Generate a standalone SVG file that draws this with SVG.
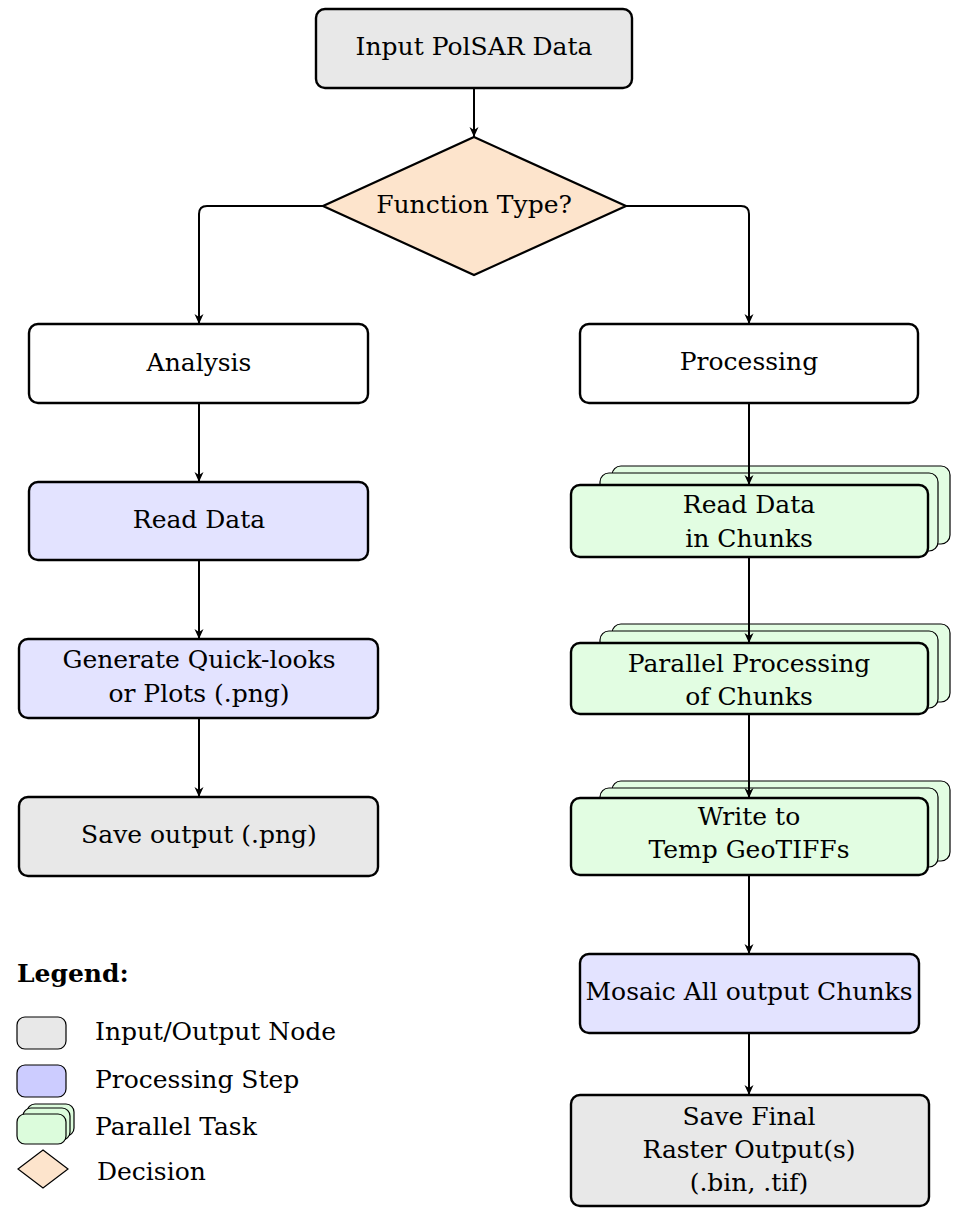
<svg xmlns="http://www.w3.org/2000/svg" width="959" height="1216" viewBox="0 0 959 1216">
<style>
.t{font-size:25px;fill:#000;text-anchor:middle}
.lt{font-size:25px;fill:#000}
.lb{font-size:25px;font-weight:bold;fill:#000}
.n{stroke:#000;stroke-width:2.4}
.io{fill:#e8e8e8}
.proc{fill:#e3e3ff}
.plain{fill:#fff}
.par{fill:#e2fde2}
.sh{fill:#e2fde2;stroke:#000;stroke-width:1.2}
.dec{fill:#fde4cc;stroke:#000;stroke-width:2.2}
.leg{stroke:#000;stroke-width:1.2}
.c{fill:none;stroke:#000;stroke-width:2}
</style>
<defs>
<marker id="ah" markerUnits="userSpaceOnUse" markerWidth="14" markerHeight="12" viewBox="-11 -6 12 12" refX="0" refY="0" orient="auto">
<path d="M0,0 L-10,-4.5 L-7,0 L-10,4.5 Z" fill="#000"/>
</marker>
</defs>
<g font-family="'DejaVu Serif', serif">

<g id="input">
<rect class="n io" x="316" y="9" width="316" height="79" rx="9"/>
<text class="t" x="474" y="55">Input PolSAR Data</text>
</g>

<g id="decision">
<polygon class="dec" points="474,137 626,206 474,275 323,206"/>
<text class="t" x="474" y="213">Function Type?</text>
</g>

<g id="analysis">
<rect class="n plain" x="29" y="324" width="339" height="79" rx="9"/>
<text class="t" x="199" y="371">Analysis</text>
</g>

<g id="processing">
<rect class="n plain" x="580" y="324" width="338" height="79" rx="9"/>
<text class="t" x="749" y="370">Processing</text>
</g>

<g id="read-data">
<rect class="n proc" x="29" y="482" width="339" height="78" rx="9"/>
<text class="t" x="199" y="528">Read Data</text>
</g>

<g id="quicklooks">
<rect class="n proc" x="19" y="639" width="359" height="79" rx="9"/>
<text class="t" x="199" y="668">Generate Quick-looks</text>
<text class="t" x="199" y="702">or Plots (.png)</text>
</g>

<g id="save-output">
<rect class="n io" x="19" y="797" width="359" height="79" rx="9"/>
<text class="t" x="199" y="843">Save output (.png)</text>
</g>

<g id="read-chunks">
<rect class="sh" x="612" y="466" width="338" height="78" rx="9"/>
<rect class="sh" x="600" y="473" width="338" height="78" rx="9"/>
<rect class="n par" x="571" y="485" width="357" height="72" rx="9"/>
<text class="t" x="749" y="513">Read Data</text>
<text class="t" x="749" y="547">in Chunks</text>
</g>

<g id="parallel-processing">
<rect class="sh" x="612" y="624" width="338" height="78" rx="9"/>
<rect class="sh" x="600" y="631" width="338" height="77" rx="9"/>
<rect class="n par" x="571" y="643" width="357" height="71" rx="9"/>
<text class="t" x="749" y="672">Parallel Processing</text>
<text class="t" x="749" y="705">of Chunks</text>
</g>

<g id="write-temp">
<rect class="sh" x="612" y="781" width="338" height="80" rx="9"/>
<rect class="sh" x="600" y="788" width="338" height="79" rx="9"/>
<rect class="n par" x="571" y="798" width="357" height="77" rx="9"/>
<text class="t" x="749" y="825">Write to</text>
<text class="t" x="749" y="858">Temp GeoTIFFs</text>
</g>

<g id="mosaic">
<rect class="n proc" x="580" y="954" width="339" height="79" rx="9"/>
<text class="t" x="749" y="1000">Mosaic All output Chunks</text>
</g>

<g id="save-final">
<rect class="n io" x="571" y="1095" width="358" height="111" rx="9"/>
<text class="t" x="749" y="1125">Save Final</text>
<text class="t" x="749" y="1158">Raster Output(s)</text>
<text class="t" x="749" y="1191">(.bin, .tif)</text>
</g>

<g id="connectors">
<line class="c" x1="474" y1="88" x2="474" y2="137" marker-end="url(#ah)"/>
<path class="c" d="M323,206 H207 Q199,206 199,214 V324" marker-end="url(#ah)"/>
<path class="c" d="M626,206 H741 Q749,206 749,214 V324" marker-end="url(#ah)"/>
<line class="c" x1="199" y1="403" x2="199" y2="482" marker-end="url(#ah)"/>
<line class="c" x1="199" y1="560" x2="199" y2="639" marker-end="url(#ah)"/>
<line class="c" x1="199" y1="718" x2="199" y2="797" marker-end="url(#ah)"/>
<line class="c" x1="749" y1="403" x2="749" y2="485" marker-end="url(#ah)"/>
<line class="c" x1="749" y1="557" x2="749" y2="643" marker-end="url(#ah)"/>
<line class="c" x1="749" y1="714" x2="749" y2="798" marker-end="url(#ah)"/>
<line class="c" x1="749" y1="875" x2="749" y2="954" marker-end="url(#ah)"/>
<line class="c" x1="749" y1="1033" x2="749" y2="1095" marker-end="url(#ah)"/>
</g>

<g id="legend">
<text class="lb" x="17" y="982">Legend:</text>
<rect class="leg io" x="17" y="1017" width="49" height="32" rx="8"/>
<text class="lt" x="95" y="1040">Input/Output Node</text>
<rect class="leg" fill="#ccccff" x="17" y="1065" width="49" height="32" rx="8"/>
<text class="lt" x="95" y="1088">Processing Step</text>
<rect class="leg" fill="#dcfcdc" x="27" y="1104" width="47" height="32" rx="8"/>
<rect class="leg" fill="#dcfcdc" x="23" y="1108" width="47" height="32" rx="8"/>
<rect class="leg" fill="#dcfcdc" stroke-width="1.6" x="17" y="1114" width="49" height="30" rx="8"/>
<text class="lt" x="95" y="1135">Parallel Task</text>
<polygon class="leg" fill="#fde4cc" points="43,1150 68,1169 43,1188 18,1169"/>
<text class="lt" x="97" y="1180">Decision</text>
</g>
</g>
</svg>
